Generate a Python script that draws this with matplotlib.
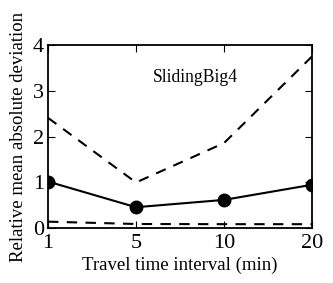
import matplotlib
matplotlib.use('Agg')
import matplotlib.pyplot as plt

# data
intervals = ['1', '5', '10', '20']
upper = [2.41, 1.0, 1.86, 3.75]
mean_dev = [1.02, 0.46, 0.62, 0.95]
lower = [0.145, 0.094, 0.09, 0.09]

plt.rcParams['font.family'] = 'Liberation Serif'

fig = plt.figure(figsize=(3.33, 2.83), dpi=100)
ax = fig.add_axes([48/333, 1-228.3/283, 264/333, 183.3/283])

xs = range(len(intervals))
ax.plot(xs, upper, 'k--', lw=1.5, dashes=(5, 4))
ax.plot(xs, mean_dev, 'k-', lw=1.5, marker='o', ms=9)
ax.plot(xs, lower, 'k--', lw=1.5, dashes=(5, 4))

ax.set_xlim(0, len(intervals) - 1)
ax.set_ylim(0, 4)
ax.set_xticks(list(xs))
ax.set_xticklabels(intervals)
ax.set_yticks([0, 1, 2, 3, 4])
ax.tick_params(direction='in', top=True, right=True, labelsize=16, length=5)
ax.tick_params(axis='x', pad=4)
ax.tick_params(axis='y', pad=3)
for s in ax.spines.values():
    s.set_linewidth(1.3)

ax.set_xlabel('Travel time interval (min)', fontsize=13.5, labelpad=3)
ax.set_ylabel('Relative mean absolute deviation', fontsize=13.5, labelpad=4)
ax.text(1.68, 3.28, 'SlidingBig4', fontsize=12.7, ha='center', va='center')

fig.savefig('out.png', dpi=100)
